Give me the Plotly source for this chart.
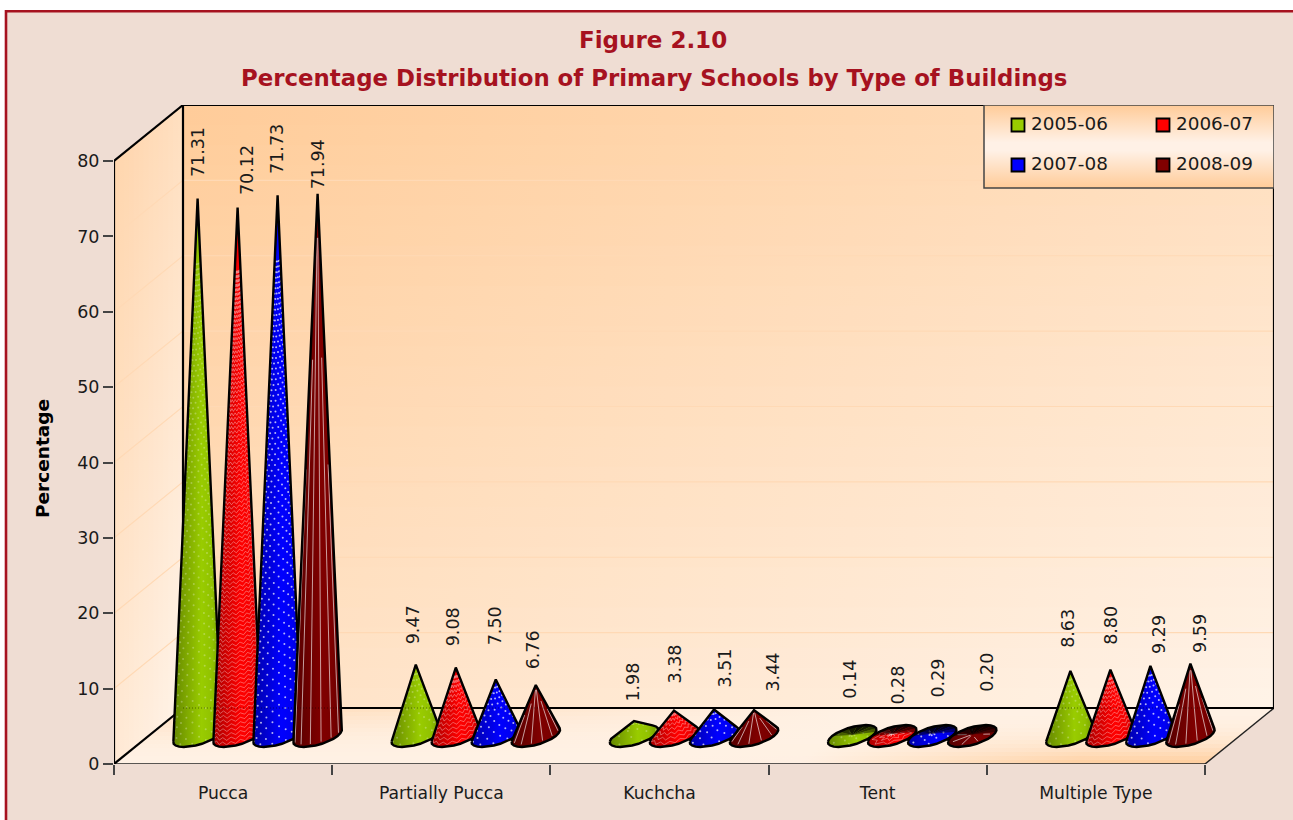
import numpy as np
import plotly.graph_objects as go

# ---------- data ----------
categories = ["Pucca", "Partially Pucca", "Kuchcha", "Tent", "Multiple Type"]
years = ["2005-06", "2006-07", "2007-08", "2008-09"]
v_2005_06 = [71.31, 9.47, 1.98, 0.14, 8.63]
v_2006_07 = [70.12, 9.08, 3.38, 0.28, 8.80]
v_2007_08 = [71.73, 7.50, 3.51, 0.29, 9.29]
v_2008_09 = [71.94, 6.76, 3.44, 0.20, 9.59]
y_ticks = [0, 10, 20, 30, 40, 50, 60, 70, 80]
series = [v_2005_06, v_2006_07, v_2007_08, v_2008_09]
labels = [["71.31", "9.47", "1.98", "0.14", "8.63"],
          ["70.12", "9.08", "3.38", "0.28", "8.80"],
          ["71.73", "7.50", "3.51", "0.29", "9.29"],
          ["71.94", "6.76", "3.44", "0.20", "9.59"]]

# ---------- label placement (pixels relative to cone tips) ----------
label_dx = [[0, -3, -1, -2, -2], [9.5, -2, 1, 6, 1], [0, 0, 11, 6, 9], [0, -3, 19, 15, 9]]
label_gap = [[21, 20.6, 19, 36, 23], [12.5, 21.6, 26.5, 29, 24.7],
             [21, 34.5, 21.5, 36, 12], [4, 16, 18, 42.5, 10.7]]

# ---------- geometry / style ----------
W, H = 1293, 820
L, R, T, B = 114, 1274, 105, 764       # pixel box of the axes
FRONT_R = 1205
DEPTH_X, DEPTH_Y = 69, 56
PX_PER_CAT = (FRONT_R - L) / 5
PX_PER_UNIT = (764 - 161) / 80
X = lambda p: (p - L) / PX_PER_CAT
Y = lambda p: (B - p) / PX_PER_UNIT
RX, DX, DY = 20 / PX_PER_CAT, 13.8 / PX_PER_CAT, 11 / PX_PER_UNIT
FLOOR_Y = 28 / PX_PER_UNIT
FLOOR_X = 34.5 / PX_PER_CAT
SLOT = 40 / PX_PER_CAT
colors = [(153, 204, 0), (255, 0, 0), (0, 0, 255), (128, 0, 0)]
FONT = "DejaVu Sans"
TXT = "#1a1a1a"

fig = go.Figure()


def mix(a, b, t):
    t = float(np.clip(t, 0, 1))
    return "rgb(%d,%d,%d)" % tuple(round(a[i] + (b[i] - a[i]) * t) for i in range(3))


def poly(xs, ys, grad=None, **kw):
    d = dict(x=xs, y=ys, mode="lines", fill="toself", line=dict(width=0), showlegend=False,
             hoverinfo="skip", cliponaxis=False)
    if grad:
        d["fillgradient"] = grad
    d.update(kw)
    fig.add_trace(go.Scatter(**d))


ORANGE, PALE = (255, 204, 153), (255, 243, 232)

# back wall: painted rows, each with a horizontal gradient
rows = np.linspace(T, 708, 31)[:-1]
for r in rows:
    scale = [[u, mix(ORANGE, PALE, 0.45 * u + 0.55 * (r + 10 - T) / 603)] for u in (0, 0.5, 1)]
    poly([X(183), X(R), X(R), X(183), X(183)], [Y(r), Y(r), Y(708), Y(708), Y(r)],
         dict(type="horizontal", colorscale=scale, start=X(183), stop=X(R)))

# left wall: painted columns, each with a vertical gradient
LW0, LW1 = (255, 212, 170), (255, 245, 236)
for c in np.linspace(0, 1, 15)[:-1]:
    x0 = L + c * DEPTH_X
    sh = c * DEPTH_Y
    scale = [[u, mix(LW0, LW1, 0.35 * c + 0.65 * (1 - u))] for u in (0, 0.5, 1)]
    poly([X(x0), X(183), X(183), X(x0), X(x0)],
         [Y(764 - sh), Y(708), Y(105), Y(161 - sh), Y(764 - sh)],
         dict(type="vertical", colorscale=scale, start=Y(764), stop=Y(105)))

# floor: painted strips
FLOOR_BASE = (255, 241, 228)
for v in np.linspace(0, 1, 15)[:-1]:
    ytop = 708 + v * 56
    xl = 183 - v * DEPTH_X
    vm = v + 0.036
    scale = []
    for u in np.linspace(0, 1, 9):
        o1 = 0.62 * (1 - vm) ** 2.2 * np.clip(1 - u / 0.6, 0, 1)
        o2 = vm ** 2.4 * np.clip((u - 0.62) / 0.28, 0, 1)
        scale.append([float(u), mix(FLOOR_BASE, ORANGE, o1 + o2)])
    poly([X(xl), X(xl + 1091), X(FRONT_R), X(L), X(xl)],
         [Y(ytop), Y(ytop), Y(764), Y(764), Y(ytop)],
         dict(type="horizontal", colorscale=scale, start=X(xl), stop=X(xl + 1091)))

# grid lines on the back and left walls
gx, gy = [], []
for t in y_ticks[1:-1]:
    gx += [X(L), X(183), X(R), None]
    gy += [t, t + DEPTH_Y / PX_PER_UNIT, t + DEPTH_Y / PX_PER_UNIT, None]
fig.add_trace(go.Scatter(x=gx, y=gy, mode="lines", line=dict(color="#FFD9B5", width=1.2),
                         showlegend=False, hoverinfo="skip"))


# box outline
def outline(segs, color, width):
    bx, by = [], []
    for (x0, y0, x1, y1) in segs:
        bx += [X(x0), X(x1), None]
        by += [Y(y0), Y(y1), None]
    fig.add_trace(go.Scatter(x=bx, y=by, mode="lines", line=dict(color=color, width=width),
                             showlegend=False, hoverinfo="skip", cliponaxis=False))


outline([(L, 764, FRONT_R, 764), (FRONT_R, 764, R, 708)], "#222", 1.5)
outline([(L, 161, L, 764), (L, 161, 183, 105), (183, 105, R, 105), (183, 105, 183, 708),
         (L, 764, 183, 708), (183, 708, R, 708), (R, 105, R, 708)], "#000", 2.2)


def hull(pts):
    pts = sorted(set(pts))
    def half(seq):
        out = []
        for p in seq:
            while len(out) > 1 and ((out[-1][0] - out[-2][0]) * (p[1] - out[-2][1]) -
                                    (out[-1][1] - out[-2][1]) * (p[0] - out[-2][0])) <= 0:
                out.pop()
            out.append(p)
        return out[:-1]
    return half(pts) + half(pts[::-1])


def add_cone(i_cat, i_ser, val):
    xc = i_cat + 0.5 + FLOOR_X + (i_ser - 1.5) * SLOT
    y0 = FLOOR_Y
    apex = (xc, y0 + val)
    base = lambda t: (xc + RX * np.cos(t) + DX * np.sin(t), y0 + DY * np.sin(t))
    ts = np.linspace(0, 2 * np.pi, 25)[:-1]
    bpts = [tuple(map(float, base(t))) for t in ts]
    h = hull(bpts + [apex])
    hx = [p[0] for p in h] + [h[0][0]]
    hy = [p[1] for p in h] + [h[0][1]]
    col = colors[i_ser]
    dark = lambda k: "rgb(%d,%d,%d)" % tuple(round(c * k) for c in col)
    x_ext = (RX ** 2 + DX ** 2) ** 0.5
    scale = [[0, dark(0.66)], [0.3, dark(0.84)], [0.58, dark(1.0)], [0.8, dark(0.95)], [1, dark(0.74)]]
    poly(hx, hy, dict(type="horizontal", colorscale=scale, start=xc - x_ext, stop=xc + x_ext))

    # surface texture: point on cone = tip + s * (base point - tip)
    vis = [t for t, p in zip(ts, bpts) if p in h]
    tv = np.array([(t - 1.3) % (2 * np.pi) for t in vis])
    t_lo, t_hi = tv.min(), tv.max()
    surf = lambda s, t: (apex[0] + s * (base(t + 1.3)[0] - apex[0]), apex[1] + s * (base(t + 1.3)[1] - apex[1]))
    hpx = val * PX_PER_UNIT + 11
    smax = 1 - 2.5 / hpx
    if i_ser == 3:
        lx, ly = [], []
        starts = [0.5, 0.3, 0.08, 0.08, 0.3, 0.5]
        for s0, t in zip(starts, np.linspace(t_lo, t_hi, 8)[1:-1]):
            a, b = surf(s0, t), surf(smax, t)
            lx += [a[0], b[0], None]
            ly += [a[1], b[1], None]
        fig.add_trace(go.Scatter(x=lx, y=ly, mode="lines", line=dict(color="rgba(255,255,255,0.62)", width=1),
                                 showlegend=False, hoverinfo="skip"))
    elif i_ser == 1:
        lx, ly = [], []
        n = max(3, int(hpx / 5))
        for s in np.linspace(0.12, smax - 1 / hpx, n):
            for k, t in enumerate(np.linspace(t_lo, t_hi, 17)[1:-1]):
                a = surf(s + (0.7 if k % 2 else -0.7) * 2 / hpx, t)
                lx.append(a[0]); ly.append(a[1])
            lx.append(None); ly.append(None)
        fig.add_trace(go.Scatter(x=lx, y=ly, mode="lines", line=dict(color="rgba(255,255,255,0.34)", width=1),
                                 showlegend=False, hoverinfo="skip"))
    else:
        lx, ly = [], []
        n = max(3, int(hpx / 6))
        for j, s in enumerate(np.linspace(0.12, smax, n)):
            rays = np.linspace(t_lo, t_hi, 12)[1:-1]
            for t in rays[j % 2::2]:
                a = surf(s, t)
                lx.append(a[0]); ly.append(a[1])
        alpha = 0.7 if i_ser == 2 else 0.28
        fig.add_trace(go.Scatter(x=lx, y=ly, mode="markers",
                                 marker=dict(size=2, color="rgba(255,255,255,%s)" % alpha, line=dict(width=0)),
                                 showlegend=False, hoverinfo="skip"))

    # very flat cones show their far side, whose facets are in shadow
    if val < DY:
        facets = np.linspace(0, 2 * np.pi, 17)
        for t0, t1 in zip(facets[:-1], facets[1:]):
            a = 0.92 * max(0.0, float(np.cos((t0 + t1) / 2 - 1.75))) ** 0.7
            if a > 0.03:
                p0, p1 = base(t0), base(t1)
                poly([apex[0], p0[0], p1[0], apex[0]], [apex[1], p0[1], p1[1], apex[1]],
                     fillcolor="rgba(0,0,0,%.2f)" % a)

    fig.add_trace(go.Scatter(x=hx, y=hy, mode="lines", name=years[i_ser],
                             line=dict(color="#000", width=2.4), showlegend=False,
                             hovertemplate=categories[i_cat] + " " + years[i_ser] + ": " + labels[i_ser][i_cat] + "<extra></extra>"))
    fig.add_annotation(x=apex[0], y=apex[1], xref="x", yref="y", text=labels[i_ser][i_cat],
                       textangle=-90, showarrow=False, xanchor="center", yanchor="bottom",
                       xshift=label_dx[i_ser][i_cat], yshift=label_gap[i_ser][i_cat],
                       font=dict(family=FONT, size=17.5, color=TXT), borderpad=0, borderwidth=0)


for ic in range(len(categories)):
    for isr in range(len(series)):
        add_cone(ic, isr, series[isr][ic])

# the floor's back edge shows faintly through the cones
fig.add_trace(go.Scatter(x=[X(183), X(R)], y=[Y(708), Y(708)], mode="lines",
                         line=dict(color="rgba(0,0,0,0.45)", width=1, dash="1px 2px"),
                         showlegend=False, hoverinfo="skip"))

# legend box
poly([X(984), X(R), X(R), X(984), X(984)], [Y(105), Y(105), Y(188), Y(188), Y(105)],
     dict(type="vertical", start=Y(105), stop=Y(188),
          colorscale=[[0, "#FFCB98"], [0.45, "#FFF1E6"], [0.55, "#FFF1E6"], [1, "#FFCB98"]]),
     line=dict(color="#444", width=1.5))
leg_x = [1018, 1163, 1018, 1163]
leg_y = [125, 125, 165, 165]
for i, yr in enumerate(years):
    fig.add_trace(go.Scatter(
        x=[X(leg_x[i])], y=[Y(leg_y[i])], mode="markers", name=yr,
        marker=dict(symbol="square", size=13, color="rgb(%d,%d,%d)" % colors[i], line=dict(color="#000", width=1.8)),
        showlegend=False, hoverinfo="skip", cliponaxis=False))
    fig.add_trace(go.Scatter(
        x=[X(leg_x[i] + 13)], y=[Y(leg_y[i])], mode="text", text=[yr], name=yr,
        textposition="middle right", textfont=dict(family=FONT, size=18.4, color=TXT),
        showlegend=False, hoverinfo="skip", cliponaxis=False))

# headings
fig.add_annotation(x=653 / W, y=1 - 40 / H, xref="paper", yref="paper", text="<b>Figure 2.10</b>",
                   showarrow=False, xanchor="center", yanchor="middle",
                   font=dict(family=FONT, size=23, color="#A6121F"))
fig.add_annotation(x=653.5 / W, y=1 - 78 / H, xref="paper", yref="paper",
                   text="<b>Percentage Distribution of Primary Schools by Type of Buildings</b>",
                   showarrow=False, xanchor="center", yanchor="middle",
                   font=dict(family=FONT, size=22.85, color="#A6121F"))
fig.add_annotation(x=42 / W, y=1 - 459 / H, xref="paper", yref="paper", text="<b>Percentage</b>",
                   textangle=-90, showarrow=False, xanchor="center", yanchor="middle",
                   font=dict(family=FONT, size=18.5, color="#000"))

fig.update_layout(
    width=W, height=H, autosize=False, margin=dict(l=0, r=0, t=0, b=0),
    paper_bgcolor="#FFFFFF", plot_bgcolor="rgba(0,0,0,0)", showlegend=False,
    font=dict(family=FONT, color=TXT),
    xaxis=dict(domain=[L / W, R / W], range=[0, X(R)], automargin=False, showgrid=False, zeroline=False, showline=False,
               tickmode="array", tickvals=[i + 0.5 for i in range(5)], ticktext=categories,
               ticks="outside", ticklen=13, tickcolor="rgba(0,0,0,0)", tickfont=dict(family=FONT, size=17.2, color=TXT),
               minor=dict(tickmode="array", tickvals=list(range(6)), ticks="outside", ticklen=10,
                          tickcolor="#444", tickwidth=1.5, showgrid=False)),
    yaxis=dict(domain=[1 - B / H, 1 - T / H], range=[0, Y(T)], automargin=False, showgrid=False, zeroline=False, showline=False,
               tickmode="array", tickvals=y_ticks, ticks="outside", ticklen=10, tickcolor="#444", tickwidth=1.5,
               tickfont=dict(family=FONT, size=17.5, color=TXT)),
    shapes=[dict(type="rect", xref="paper", yref="paper", layer="below",
                 x0=6 / W, x1=1.02, y0=-0.02, y1=1 - 11.3 / H,
                 line=dict(color="#A6121F", width=2.6), fillcolor="#EFDDD3")],
)

fig.write_html("out.html", config={"displayModeBar": False},
               post_script="document.body.style.margin='0';document.body.style.overflow='hidden';")
